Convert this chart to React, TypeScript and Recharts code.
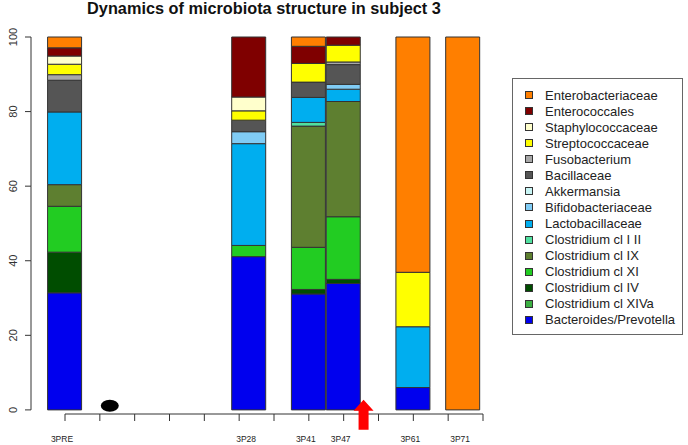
import { ComposedChart, Bar, Scatter, XAxis, YAxis, Legend } from 'recharts';

// sample names and where each bar sits on the day axis
const samples = ['3PRE', '3P28', '3P41', '3P47', '3P61', '3P71'];
const samplePos = [-9, 28, 40, 47, 61, 71];

// weekly ticks along the bottom axis
const weekTicks = [-9, -2, 5, 12, 19, 26, 33, 40, 47, 54, 61, 68, 75];
const yTicks = [0, 20, 40, 60, 80, 100];

// taxa, bottom of the stack first
const taxa = [
  'Bacteroides/Prevotella',
  'Clostridium cl XIVa',
  'Clostridium cl IV',
  'Clostridium cl XI',
  'Clostridium cl IX',
  'Clostridium cl I II',
  'Lactobacillaceae',
  'Bifidobacteriaceae',
  'Akkermansia',
  'Bacillaceae',
  'Fusobacterium',
  'Streptococcaceae',
  'Staphylococcaceae',
  'Enterococcales',
  'Enterobacteriaceae',
];

const taxaColors = [
  '#0000EE',
  '#3CB043',
  '#004D00',
  '#22CC22',
  '#5E7F30',
  '#50E0A0',
  '#00AEEF',
  '#80CCF5',
  '#C8F5F5',
  '#555555',
  '#A8A8A8',
  '#FFFF00',
  '#FFFFCC',
  '#7F0000',
  '#FF7F00',
];

// % abundance per sample (3PRE, 3P28, 3P41, 3P47, 3P61, 3P71)
const bacteroides = [31.4, 41.1, 31.1, 33.9, 6.0, 0];
const clostXIVa = [0, 0, 0, 0, 0, 0];
const clostIV = [10.9, 0, 1.2, 1.1, 0, 0];
const clostXI = [12.3, 3.0, 11.3, 16.8, 0, 0];
const clostIX = [5.8, 0, 32.5, 30.9, 0, 0];
const clostI_II = [0, 0, 1.0, 0, 0, 0];
const lacto = [19.5, 27.3, 6.7, 3.3, 16.3, 0];
const bifido = [0, 3.2, 0, 1.3, 0, 0];
const akkermansia = [0, 0, 0, 0, 0, 0];
const bacillaceae = [8.5, 3.1, 4.1, 5.3, 0, 0];
const fuso = [1.5, 0, 0, 0.7, 0, 0];
const strepto = [2.8, 2.5, 5.0, 4.5, 14.6, 0];
const staphylo = [2.2, 3.7, 0, 0, 0, 0];
const enterococc = [2.2, 16.1, 4.6, 2.2, 0, 0];
const enterobact = [2.9, 0, 2.5, 0, 63.1, 100];

const taxaValues = [
  bacteroides, clostXIVa, clostIV, clostXI, clostIX, clostI_II, lacto, bifido,
  akkermansia, bacillaceae, fuso, strepto, staphylo, enterococc, enterobact,
];

// markers under the bars: the black dot and the red arrow
const dotMarker = [{ day: 0, v: 1.1 }];
const arrowMarker = [{ day: 51, v: 2.7 }];

const data = samples.map((s, i) => {
  const row: any = { name: s, day: samplePos[i] };
  taxa.forEach((t, k) => {
    row[`t${k}`] = taxaValues[k][i];
  });
  return row;
});

const W = 688;
const H = 445;
const PLOT_L = 65;
const PLOT_R = 483;
const AXIS_Y = 414;
const YAXIS_X = 31;
const Y_TOP = 37;
const Y_MIN = -1.1;
const pxPerUnit = (AXIS_Y - Y_TOP) / (100 - Y_MIN);
const xDomain = [weekTicks[0], weekTicks[weekTicks.length - 1]];
const FONT = 'Liberation Sans, Arial, sans-serif';

const WeekTick = (props: any) => (
  <line x1={props.x} x2={props.x} y1={AXIS_Y} y2={AXIS_Y + 7} stroke="#333" strokeWidth={1} />
);

const LabelTick = (props: any) => {
  const { x, payload } = props;
  const li = samplePos.indexOf(payload.value);
  if (li < 0) return null;
  return (
    <text x={x - 3} y={442} textAnchor="middle" fontSize={8.5} fill="#222" fontFamily={FONT}>
      {samples[li]}
    </text>
  );
};

const YTick = (props: any) => {
  const { y, payload } = props;
  const v = payload.value;
  return (
    <g>
      <line x1={YAXIS_X - 6} x2={YAXIS_X} y1={y} y2={y} stroke="#333" />
      {v < 100 && (
        <line x1={YAXIS_X} x2={YAXIS_X} y1={y} y2={y - 20 * pxPerUnit} stroke="#333" />
      )}
      <text x={13} y={y} transform={`rotate(-90 13 ${y})`} textAnchor="middle"
        dominantBaseline="central" fontSize={11} fill="#333" fontFamily={FONT}>
        {v}
      </text>
    </g>
  );
};

const Ellipse = (props: any) => (
  <ellipse cx={props.cx} cy={props.cy} rx={9} ry={6} fill="#000" />
);

const Arrow = (props: any) => {
  const { cx, cy } = props;
  return (
    <path
      d={`M${cx},${cy} L${cx + 10},${cy + 11} L${cx + 5},${cy + 11} L${cx + 5},${cy + 30} L${cx - 5},${cy + 30} L${cx - 5},${cy + 11} L${cx - 10},${cy + 11} Z`}
      fill="#FF0000"
    />
  );
};

const LegendBox = () => (
  <div
    style={{
      width: 171,
      height: 257,
      border: '1px solid #666',
      boxSizing: 'border-box',
      paddingTop: 8,
      fontFamily: FONT,
      fontSize: 13,
      color: '#222',
    }}
  >
    {taxa.map((t, k) => taxa.length - 1 - k).map((k) => (
      <div key={taxa[k]} style={{ display: 'flex', alignItems: 'center', height: 16.07, whiteSpace: 'nowrap' }}>
        <span
          style={{
            display: 'inline-block',
            flex: 'none',
            width: 8,
            height: 8,
            marginLeft: 12,
            marginRight: 12,
            background: taxaColors[k],
            border: '1px solid #333',
            boxSizing: 'border-box',
          }}
        />
        <span>{taxa[k]}</span>
      </div>
    ))}
  </div>
);

export default function App() {
  return (
    <div style={{ position: 'absolute', left: 0, top: 0, width: W, height: H, background: '#fff' }}>
      <div
        style={{
          position: 'absolute',
          left: 0,
          top: -1,
          width: 528,
          textAlign: 'center',
          fontFamily: FONT,
          fontWeight: 'bold',
          fontSize: 16.3,
          lineHeight: '18px',
          color: '#111',
          whiteSpace: 'nowrap',
        }}
      >
        Dynamics of microbiota structure in subject 3
      </div>
      <ComposedChart
        width={W}
        height={H}
        data={data}
        margin={{ top: Y_TOP, right: W - PLOT_R, bottom: 0, left: 0 }}
      >
        <XAxis
          type="number"
          dataKey="day"
          domain={xDomain}
          ticks={weekTicks}
          interval={0}
          height={8}
          axisLine={{ stroke: '#333' }}
          tickLine={false}
          tick={<WeekTick />}
        />
        <XAxis
          xAxisId="lab"
          type="number"
          dataKey="day"
          domain={xDomain}
          ticks={samplePos}
          interval={0}
          height={H - AXIS_Y - 8}
          axisLine={false}
          tickLine={false}
          tick={<LabelTick />}
        />
        <YAxis
          type="number"
          domain={[Y_MIN, 100]}
          ticks={yTicks}
          width={PLOT_L}
          axisLine={false}
          tickLine={false}
          tick={<YTick />}
        />
        {taxa.map((t, k) => (
          <Bar
            key={t}
            dataKey={`t${k}`}
            name={t}
            stackId="a"
            barSize={34}
            fill={taxaColors[k]}
            stroke="#333"
            strokeWidth={1}
            isAnimationActive={false}
          />
        ))}
        <Scatter xAxisId="lab" data={dotMarker} dataKey="v" shape={<Ellipse />} isAnimationActive={false} />
        <Scatter xAxisId="lab" data={arrowMarker} dataKey="v" shape={<Arrow />} isAnimationActive={false} />
        <Legend
          layout="horizontal"
          verticalAlign="middle"
          align="center"
          wrapperStyle={{ left: 512, top: 78, width: 172, height: 257 }}
          content={<LegendBox />}
        />
      </ComposedChart>
    </div>
  );
}
